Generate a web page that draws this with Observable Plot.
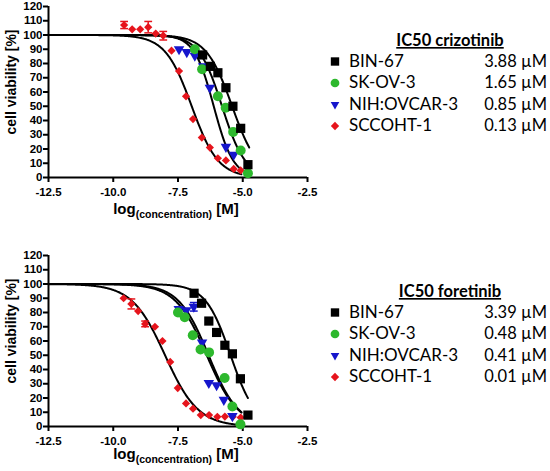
<!DOCTYPE html>
<html>
<head>
<meta charset="utf-8">
<script src="https://cdn.jsdelivr.net/npm/d3@7"></script>
<script src="https://cdn.jsdelivr.net/npm/@observablehq/plot@0.6"></script>
<style>
  html, body { margin: 0; padding: 0; background: #ffffff; }
  #wrap { position: relative; width: 550px; height: 471px; overflow: hidden; background: #ffffff; }
</style>
</head>
<body>
<div id="wrap"></div>
<script>
// ---------------- data ----------------
const cellLines = ["BIN-67", "SK-OV-3", "NIH:OVCAR-3", "SCCOHT-1"];
const seriesColors = ["#000000", "#2db82d", "#1616cc", "#e6141c"];
const xTicks = [-12.5, -10.0, -7.5, -5.0, -2.5];
const yTicks = [0, 10, 20, 30, 40, 50, 60, 70, 80, 90, 100, 110, 120];

// Crizotinib panel
const crizTitle = "IC50 crizotinib";
const crizIC50Labels = ["3.88 µM", "1.65 µM", "0.85 µM", "0.13 µM"];
const crizBinX = [-6.55, -6.25, -5.96, -5.65, -5.38, -5.08, -4.80];
const crizBinY = [86, 78, 73.5, 63, 50, 34.5, 9];
const crizSkX = [-6.85, -6.57, -5.96, -5.66, -5.37, -5.08, -4.80];
const crizSkY = [90, 76, 57, 49, 32, 19, 3];
const crizNihX = [-7.46, -7.16, -6.85, -6.53, -6.27, -5.65, -5.35];
const crizNihY = [90, 88, 85.5, 78, 63, 21.5, 16];
const crizSccX = [-9.58, -9.27, -8.96, -8.65, -8.36, -8.07, -7.75, -7.46, -7.19, -6.92, -6.58, -6.27, -5.96, -5.65, -5.35, -5.08];
const crizSccY = [107, 104, 104, 105.5, 101, 99.5, 89, 74.7, 57, 41, 28, 21, 13.5, 12, 6, 5];
const crizSccErr = [2.5, 0, 0, 4, 0, 3, 0, 0, 0, 0, 0, 0, 0, 0, 0, 0];
// fitted curve parameters (log IC50, Hill slope, last x of the fit)
const crizLogIC50 = [-5.41, -5.80, -6.12, -6.97];
const crizHill = [0.87, 0.97, 1.15, 0.85];
const crizFitEnd = [-4.75, -4.80, -5.05, -5.05];

// Foretinib panel
const foreTitle = "IC50 foretinib";
const foreIC50Labels = ["3.39 µM", "0.48 µM", "0.41 µM", "0.01 µM"];
const foreBinX = [-6.88, -6.59, -6.31, -6.01, -5.69, -5.40, -5.09, -4.80];
const foreBinY = [93.5, 86.5, 74, 66, 57, 51, 33.5, 8];
const foreSkX = [-7.50, -7.24, -6.93, -6.63, -6.30, -5.70, -5.40, -5.09];
const foreSkY = [80, 76.7, 64, 54, 52, 34, 14, 1.5];
const foreNihX = [-7.47, -7.18, -6.89, -6.57, -6.31, -6.01, -5.73, -5.40];
const foreNihY = [82.5, 81.5, 84, 59, 30.5, 29, 18.7, 7.3];
const foreNihErr = [0, 0, 3, 0, 0, 0, 0, 0];
const foreSccX = [-9.60, -9.30, -9.04, -8.77, -8.39, -8.10, -7.80, -7.51, -7.19, -6.92, -6.62, -6.30, -5.98, -5.69, -5.39, -5.08];
const foreSccY = [90, 86, 81, 72, 70, 60, 45.3, 27, 16.2, 12.5, 8, 8, 6.8, 7, 6.8, 6.3];
const foreSccErr = [0, 3.5, 0, 2, 0, 0, 0, 0, 0, 0, 0, 0, 0, 0, 0, 0];
const foreLogIC50 = [-5.47, -6.32, -6.39, -8.00];
const foreHill = [0.90, 0.75, 0.72, 0.68];
const foreFitEnd = [-4.80, -5.05, -5.05, -5.05];

// ---------------- symbols ----------------
const triangleDown = {
  draw(context, size) {
    const a = Math.sqrt(size * 4 / Math.sqrt(3));
    const h = a * Math.sqrt(3) / 2;
    context.moveTo(-a / 2, -h / 3);
    context.lineTo(a / 2, -h / 3);
    context.lineTo(0, 2 * h / 3);
    context.closePath();
  }
};
const seriesSymbols = ["square", "circle", triangleDown, "diamond2"];
const seriesR = [5.2, 5.0, 3.9, 3.7];
const d3Symbols = [d3.symbolSquare, d3.symbolCircle, triangleDown, d3.symbolDiamond2];
const legendSizes = [70, 60, 32, 44];

const fontAxis = "'Liberation Sans', Arial, sans-serif";
const fontLegend = "Lato, 'Open Sans', sans-serif";

function toRows(xs, ys, errs) {
  return xs.map((x, i) => ({ x, y: ys[i], err: errs ? errs[i] : 0 }));
}

function fitCurve(logIC50, hill, end) {
  const pts = [];
  for (let x = -12.5; x < end; x += 0.02) {
    pts.push({ x, y: 100 / (1 + Math.pow(10, (x - logIC50) * hill)) });
  }
  pts.push({ x: end, y: 100 / (1 + Math.pow(10, (end - logIC50) * hill)) });
  return pts;
}

const hbar = {
  draw(context, size) {
    const w = Math.sqrt(size);
    context.moveTo(-w, 0);
    context.lineTo(w, 0);
  }
};

function makePanel(seriesRows, logIC50, hill, fitEnd) {
  const marks = [
    Plot.axisX({ ticks: xTicks, tickFormat: d => d.toFixed(1), tickSize: 5, tickPadding: 5, strokeWidth: 2, label: null, fontWeight: "bold", fontSize: 11.5 }),
    Plot.axisY({ ticks: yTicks, tickFormat: d => String(d), tickSize: 5, tickPadding: 1, strokeWidth: 2, label: null, fontWeight: "bold", fontSize: 11.5 }),
    Plot.ruleY([0], { strokeWidth: 2, stroke: "#000" }),
    Plot.ruleX([-12.5], { strokeWidth: 2, stroke: "#000" })
  ];
  // fitted curves
  logIC50.forEach((l, i) => {
    marks.push(Plot.line(fitCurve(l, hill[i], fitEnd[i]), { x: "x", y: "y", stroke: "#000", strokeWidth: 2, curve: "linear" }));
  });
  // error bars
  seriesRows.forEach((rows, i) => {
    const e = rows.filter(d => d.err > 0);
    if (!e.length) return;
    marks.push(Plot.ruleX(e, { x: "x", y1: d => d.y - d.err, y2: d => d.y + d.err, stroke: seriesColors[i], strokeWidth: 1.5 }));
    const caps = e.flatMap(d => [{ x: d.x, y: d.y - d.err }, { x: d.x, y: d.y + d.err }]);
    marks.push(Plot.dot(caps, { x: "x", y: "y", symbol: hbar, r: 2.2, stroke: seriesColors[i], strokeWidth: 1.5, fill: "none" }));
  });
  // points: draw SCCOHT-1, NIH, SK, BIN order (BIN on top)
  [3, 2, 1, 0].forEach(i => {
    marks.push(Plot.dot(seriesRows[i], { x: "x", y: "y", symbol: seriesSymbols[i], r: seriesR[i], fill: seriesColors[i], stroke: "none" }));
  });
  return Plot.plot({
    width: 320,
    height: 222,
    marginLeft: 48,
    marginRight: 13,
    marginTop: 6,
    marginBottom: 45,
    x: { domain: [-12.5, -2.5] },
    y: { domain: [0, 120] },
    style: { fontFamily: fontAxis, color: "#000", background: "transparent", overflow: "visible" },
    marks
  });
}

const wrap = document.getElementById("wrap");

const crizRows = [toRows(crizBinX, crizBinY), toRows(crizSkX, crizSkY), toRows(crizNihX, crizNihY), toRows(crizSccX, crizSccY, crizSccErr)];
const foreRows = [toRows(foreBinX, foreBinY), toRows(foreSkX, foreSkY), toRows(foreNihX, foreNihY, foreNihErr), toRows(foreSccX, foreSccY, foreSccErr)];

const panels = [
  { rows: crizRows, l: crizLogIC50, h: crizHill, e: crizFitEnd, top: 0, title: crizTitle, vals: crizIC50Labels, xlabBase: 214, legTop: 46 },
  { rows: foreRows, l: foreLogIC50, h: foreHill, e: foreFitEnd, top: 249, title: foreTitle, vals: foreIC50Labels, xlabBase: 459, legTop: 297 }
];

panels.forEach(p => {
  const svg = makePanel(p.rows, p.l, p.h, p.e);
  svg.style.position = "absolute";
  svg.style.left = "0px";
  svg.style.top = p.top + "px";
  wrap.appendChild(svg);
});

// overlay for axis titles and legends
const ov = d3.select(wrap).append("svg")
  .attr("width", 550).attr("height", 471)
  .style("position", "absolute").style("left", "0px").style("top", "0px")
  .style("pointer-events", "none");

panels.forEach(p => {
  // y label
  ov.append("text")
    .attr("transform", `translate(15.5,${p.top + 82}) rotate(-90)`)
    .attr("text-anchor", "middle")
    .attr("font-family", fontAxis).attr("font-weight", "bold").attr("font-size", 14)
    .text("cell viability [%]");
  // x label with subscript
  const t = ov.append("text")
    .attr("x", 176).attr("y", p.xlabBase)
    .attr("text-anchor", "middle")
    .attr("font-family", fontAxis).attr("font-weight", "bold").attr("font-size", 15);
  t.append("tspan").text("log");
  t.append("tspan").attr("font-size", 10.5).attr("dy", 4).text("(concentration)");
  t.append("tspan").attr("dy", -4).text("\u00a0[M]");

  // legend title
  ov.append("text")
    .attr("x", 450).attr("y", p.legTop)
    .attr("text-anchor", "middle")
    .attr("font-family", fontLegend).attr("font-weight", "bold").attr("font-size", 16.5)
    .attr("text-decoration", "underline")
    .text(p.title);
  // legend rows
  cellLines.forEach((name, i) => {
    const base = p.legTop + 20.5 + i * 21.5;
    ov.append("path")
      .attr("transform", `translate(335,${base - 5})`)
      .attr("d", d3.symbol(d3Symbols[i], legendSizes[i])())
      .attr("fill", seriesColors[i]);
    ov.append("text")
      .attr("x", 349).attr("y", base)
      .attr("font-family", fontLegend).attr("font-size", 17)
      .text(name);
    ov.append("text")
      .attr("x", 547).attr("y", base)
      .attr("text-anchor", "end")
      .attr("font-family", fontLegend).attr("font-size", 16.5)
      .text(p.vals[i]);
  });
});
</script>
</body>
</html>
